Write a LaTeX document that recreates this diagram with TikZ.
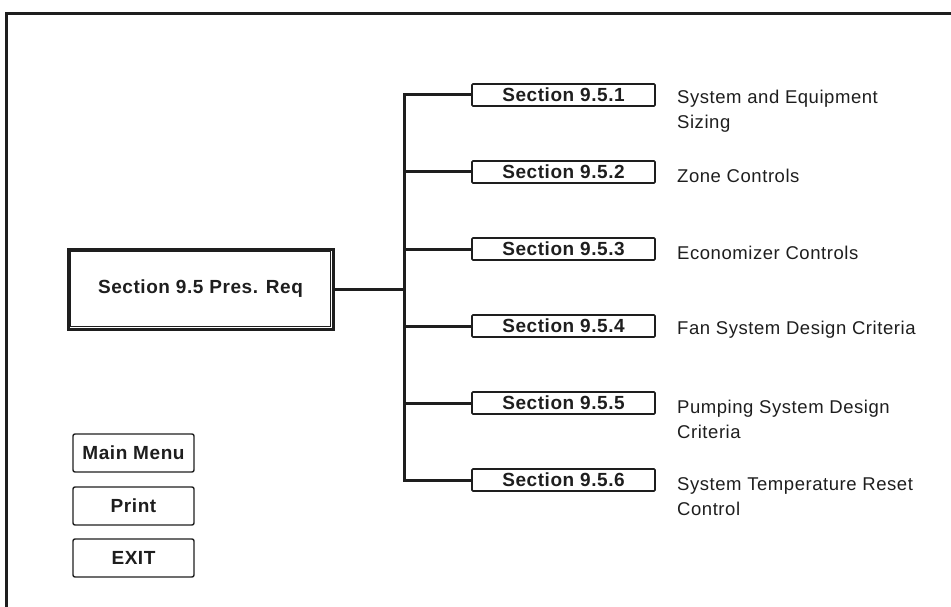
\documentclass[tikz,border=0pt]{standalone}
\usepackage{fontspec}
\setmainfont{Liberation Sans}[LetterSpace=3]
\definecolor{ink}{RGB}{30,30,30}
\begin{document}
\begin{tikzpicture}[x=1pt,y=-1pt,
  mainbox/.style={draw=ink, line width=3pt, minimum width=265pt, minimum height=80pt, inner sep=0pt,
    font=\fontsize{19}{22}\selectfont\bfseries, text=ink},
  secbox/.style={draw=ink, line width=1.6pt, rounded corners=1pt, minimum width=183pt, minimum height=22pt,
    inner sep=0pt, font=\fontsize{19}{22}\selectfont\bfseries, text=ink},
  desc/.style={anchor=west, inner sep=0pt, align=left, font=\fontsize{18.5}{25}\selectfont, text=ink},
  btn/.style={draw=ink, line width=1.4pt, rounded corners=2pt, minimum width=121pt, minimum height=38pt,
    inner sep=0pt, font=\fontsize{19}{22}\selectfont\bfseries, text=ink},
  link/.style={draw=ink, line width=3pt}]
\useasboundingbox (0,0) rectangle (951,607);
% frame
\draw[ink, line width=3pt] (6.5,607) -- (6.5,13.5) -- (951,13.5);
% main box
\node[mainbox] (main) at (200.5,289) {Section 9.5 Pres. Req};
\draw[ink, line width=1pt] ([shift={(4,4)}]main.north west) rectangle ([shift={(-4,-4)}]main.south east);
% section boxes
\node[secbox] (s1) at (563.5,95) {Section 9.5.1};
\node[secbox] (s2) at (563.5,172) {Section 9.5.2};
\node[secbox] (s3) at (563.5,249) {Section 9.5.3};
\node[secbox] (s4) at (563.5,326) {Section 9.5.4};
\node[secbox] (s5) at (563.5,403) {Section 9.5.5};
\node[secbox] (s6) at (563.5,480) {Section 9.5.6};
% trunk
\coordinate (tr) at (404,95);
\draw[link] (s1.west) -- (s1.west -| tr) -- (s6.west -| tr) -- (s6.west);
\foreach \i in {2,3,4,5} {\draw[link] (s\i.west) -- (s\i.west -| tr);}
\draw[link] (main.east) -- (main.east -| tr);
% descriptions
\node[desc] (d1) at (677,111.5) {System and Equipment\\Sizing};
\node[desc] (d2) at (677,176) {Zone Controls};
\node[desc] (d3) at (677,253) {Economizer Controls};
\node[desc] (d4) at (677,330) {Fan System Design Criteria};
\node[desc] (d5) at (677,419.5) {Pumping System Design\\Criteria};
\node[desc] (d6) at (677,496.5) {System Temperature Reset\\Control};
% buttons
\node[btn] (b1) at (133.5,453) {Main Menu};
\node[btn] (b2) at (133.5,506) {Print};
\node[btn] (b3) at (133.5,558) {EXIT};
\end{tikzpicture}
\end{document}
